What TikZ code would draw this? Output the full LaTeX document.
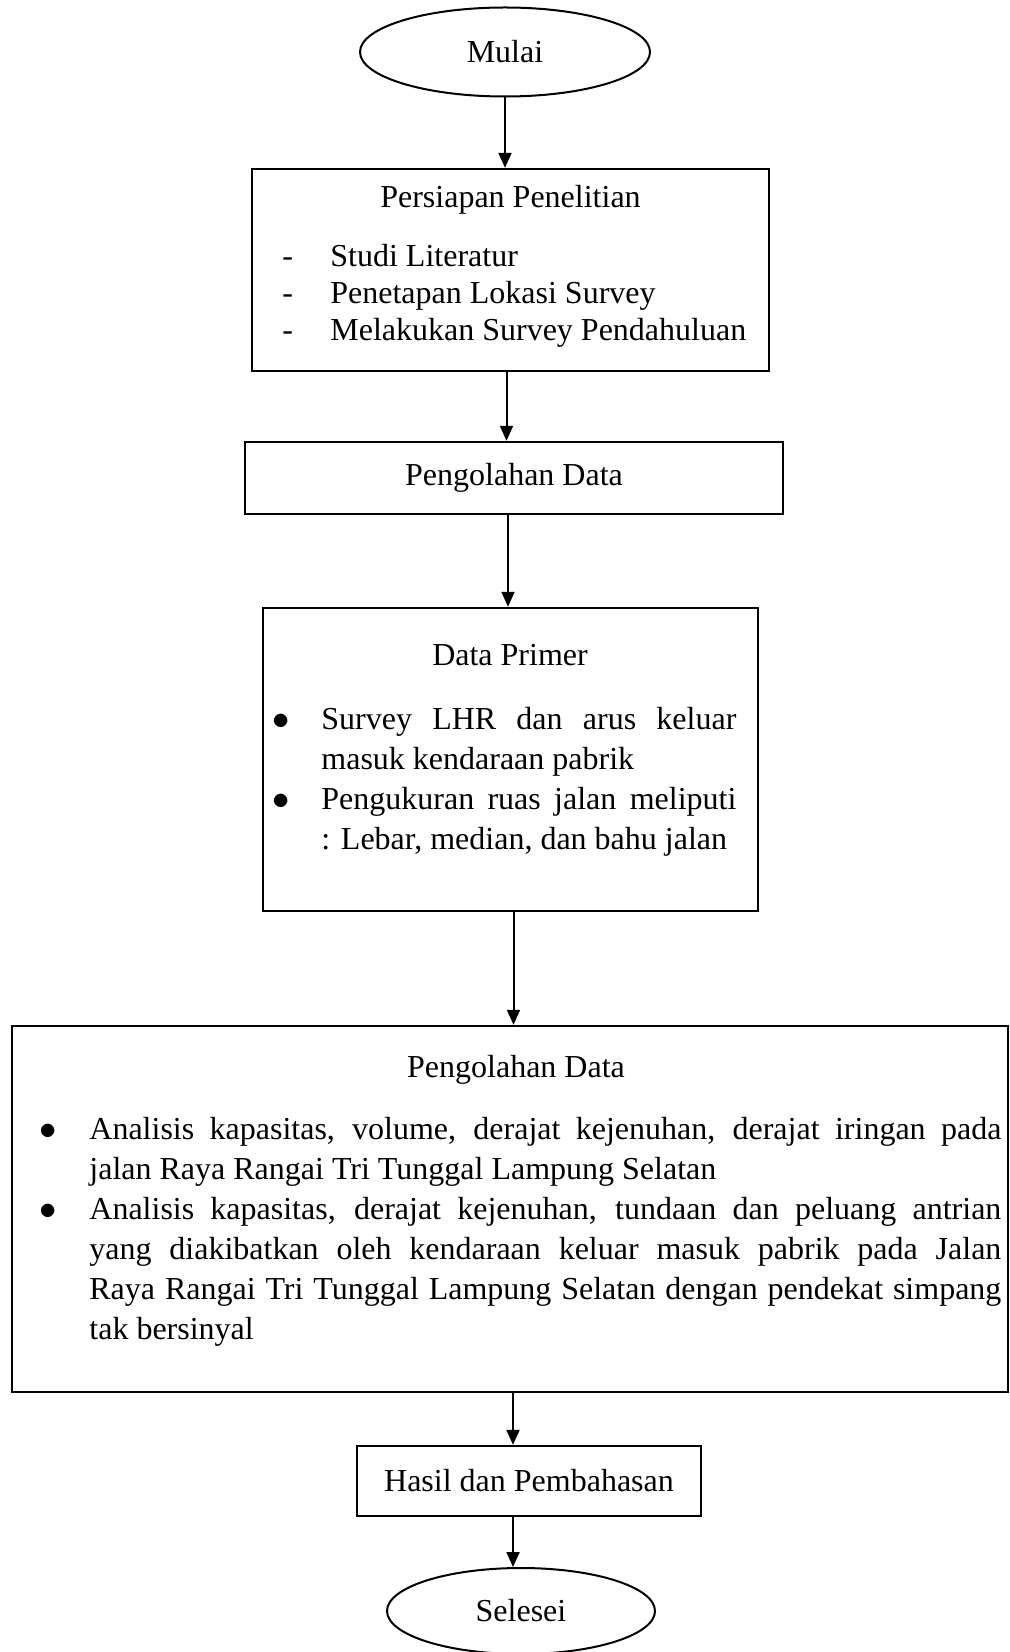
\documentclass[tikz,border=0pt]{standalone}
\usepackage{fontspec}
\setmainfont{Liberation Serif}
\usetikzlibrary{arrows.meta,shapes.geometric,positioning}

% one bullet item with hanging indent
\newcommand{\poin}[2]{\hangindent=#1\hangafter=1\noindent\makebox[#1][l]{\kern-1.5pt$\bullet$}#2\par}

\begin{document}
\begin{tikzpicture}[x=0.5pt, y=-0.5pt,
  font=\fontsize{16}{20}\selectfont,
  term/.style={draw, ellipse, line width=1pt, inner sep=0pt},
  box/.style={draw, rectangle, line width=1.2pt, inner sep=0pt},
  txt/.style={inner sep=0pt, anchor=base},
  lst/.style={inner sep=0pt, anchor=base west},
  arr/.style={-{Triangle[length=7.5pt,width=6.5pt]}, line width=1pt}]
  \useasboundingbox (0,0) rectangle (1010,1652);
  % Start
  \node[term, minimum width=145pt, minimum height=44.5pt] (mulai) at (505,52) {Mulai};
  % Persiapan
  \node[box, minimum width=258.5pt, minimum height=101pt] (prep) at (510.5,270) {};
  \node[txt] (prepT) at (510.5,208) {Persiapan Penelitian};
  \node[lst, font=\fontsize{16}{18.5}\selectfont] (prepL) at (282,267)
    {\begin{tabular}[t]{@{}p{24pt}@{}l@{}}
      - & Studi Literatur\\
      - & Penetapan Lokasi Survey\\
      - & Melakukan Survey Pendahuluan
    \end{tabular}};
  % Pengolahan (1)
  \node[box, minimum width=269pt, minimum height=36pt] (olah) at (514,478) {Pengolahan Data};
  % Data primer
  \node[box, minimum width=247.5pt, minimum height=151.5pt] (primer) at (510.5,759.5) {};
  \node[txt] (primerT) at (510,665) {Data Primer};
  \node[lst] (primerL) at (275,729)
    {\begin{minipage}[t]{230.5pt}\hyphenpenalty=10000 \tolerance=9999
      \poin{23pt}{Survey LHR dan arus keluar\linebreak masuk kendaraan pabrik}
      \poin{23pt}{Pengukuran ruas jalan meliputi\linebreak : Lebar, median, dan bahu jalan}
    \end{minipage}};
  % Pengolahan (2)
  \node[box, minimum width=498pt, minimum height=183pt] (olah2) at (510,1209) {};
  \node[txt] (olah2T) at (516,1077) {Pengolahan Data};
  \node[lst] (olah2L) at (42,1139)
    {\begin{minipage}[t]{479.5pt}\hyphenpenalty=10000 \tolerance=9999
      \poin{23.5pt}{Analisis kapasitas, volume, derajat kejenuhan, derajat iringan pada\linebreak
        jalan Raya Rangai Tri Tunggal Lampung Selatan}
      \poin{23.5pt}{Analisis kapasitas, derajat kejenuhan, tundaan dan peluang antrian\linebreak
        yang diakibatkan oleh kendaraan keluar masuk pabrik pada Jalan\linebreak
        Raya Rangai Tri Tunggal Lampung Selatan dengan pendekat simpang\linebreak
        tak bersinyal}
    \end{minipage}};
  % Hasil
  \node[box, minimum width=172pt, minimum height=35pt] (hasil) at (529,1481) {Hasil dan Pembahasan};
  % End
  \node[term, minimum width=134pt, minimum height=43pt] (selesai) at (521,1611) {Selesei};
  % Arrows
  \draw[arr] (mulai.south) -- (mulai.south |- prep.north);
  \draw[arr] ([xshift=-2pt]prep.south) -- ([xshift=-2pt]prep.south |- olah.north);
  \draw[arr] ([xshift=-3pt]olah.south) -- ([xshift=-3pt]olah.south |- primer.north);
  \draw[arr] ([xshift=1.5pt]primer.south) -- ([xshift=1.5pt]primer.south |- olah2.north);
  \draw[arr] ([xshift=1.5pt]olah2.south) -- ([xshift=1.5pt]olah2.south |- hasil.north);
  \draw[arr] ([xshift=-8pt]hasil.south) -- ([xshift=-8pt]hasil.south |- selesai.north);
\end{tikzpicture}
\end{document}
